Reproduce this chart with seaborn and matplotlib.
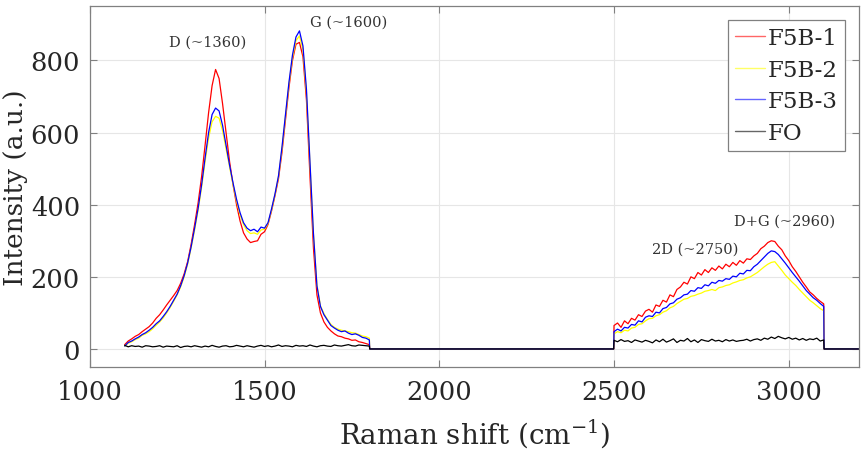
import matplotlib
matplotlib.use("Agg")
import matplotlib.pyplot as plt
import seaborn as sns
import pandas as pd
import numpy as np

# ---- data (step 10 cm^-1) ----
shift_low = list(range(1100, 1801, 10))     # 1100..1800
shift_high = list(range(2500, 3101, 10))    # 2500..3100
gap_shift = [1801, 2499]                    # baseline between the two windows
tail_shift = [3101, 3200]                   # baseline after the second window

f5b1_low = [12, 22, 28, 35, 40, 48, 55, 62, 72, 85,
            95, 108, 122, 135, 148, 162, 182, 208, 242, 290,
            345, 405, 478, 565, 655, 730, 775, 750, 680, 600,
            520, 455, 400, 355, 322, 305, 295, 298, 300, 318,
            325, 345, 382, 425, 472, 545, 635, 725, 800, 845,
            850, 810, 690, 480, 280, 150, 100, 75, 60, 50,
            42, 36, 34, 30, 28, 24, 25, 20, 18, 15,
            12]
f5b2_low = [8, 16, 20, 26, 30, 38, 42, 48, 56, 66,
            75, 86, 100, 115, 132, 150, 172, 200, 235, 280,
            330, 385, 448, 520, 585, 630, 645, 640, 605, 555,
            505, 455, 410, 372, 345, 328, 320, 322, 318, 330,
            332, 348, 385, 428, 478, 555, 645, 735, 808, 855,
            868, 830, 710, 515, 318, 178, 120, 98, 82, 68,
            60, 55, 52, 50, 48, 45, 44, 40, 36, 34,
            30]
f5b3_low = [8, 18, 22, 28, 33, 40, 45, 52, 60, 70,
            78, 90, 103, 118, 135, 152, 175, 203, 238, 283,
            335, 390, 455, 530, 600, 650, 668, 660, 620, 565,
            510, 460, 415, 378, 350, 335, 328, 332, 325, 338,
            335, 350, 388, 430, 480, 560, 650, 740, 815, 865,
            882, 840, 720, 520, 320, 175, 118, 95, 80, 65,
            58, 52, 48, 50, 44, 40, 42, 38, 32, 30,
            25]
fo_low = [10, 6, 9, 7, 8, 5, 9, 8, 6, 7,
          9, 5, 8, 7, 6, 9, 4, 7, 8, 6,
          9, 7, 5, 8, 6, 10, 7, 5, 8, 9,
          6, 7, 10, 8, 6, 9, 7, 5, 8, 10,
          7, 9, 6, 8, 11, 7, 9, 8, 6, 10,
          8, 9, 7, 11, 8, 6, 9, 10, 8, 7,
          11, 9, 8, 10, 12, 9, 8, 11, 10, 9,
          8]

f5b1_high = [65, 72, 60, 78, 70, 85, 80, 95, 90, 105,
             110, 102, 122, 118, 135, 130, 150, 145, 165, 172,
             185, 180, 200, 195, 212, 205, 220, 212, 225, 218,
             230, 222, 235, 228, 240, 232, 245, 238, 250, 248,
             258, 265, 278, 285, 295, 300, 298, 285, 275, 258,
             245, 228, 215, 200, 185, 172, 158, 150, 140, 132,
             125]
f5b2_high = [42, 48, 45, 52, 50, 58, 60, 68, 70, 78,
             84, 85, 92, 95, 102, 106, 114, 118, 126, 132,
             138, 140, 146, 148, 152, 155, 160, 162, 165, 162,
             170, 172, 176, 178, 183, 186, 190, 192, 197, 200,
             206, 212, 220, 228, 235, 240, 242, 230, 218, 205,
             195, 185, 176, 165, 155, 145, 135, 128, 120, 112,
             106]
f5b3_high = [48, 55, 50, 60, 58, 68, 66, 78, 75, 88,
             92, 90, 102, 100, 112, 115, 125, 128, 138, 142,
             150, 152, 162, 160, 170, 168, 178, 175, 185, 182,
             190, 188, 195, 193, 202, 200, 210, 208, 218, 217,
             228, 235, 245, 255, 265, 272, 270, 262, 250, 238,
             225, 212, 200, 188, 175, 162, 152, 142, 135, 126,
             118]
fo_high = [24, 20, 26, 21, 23, 18, 25, 22, 19, 24,
           21, 17, 25, 20, 27, 19, 23, 28, 18, 24,
           22, 29, 20, 25, 18, 26, 23, 21, 27, 22,
           24, 20, 26, 22, 25, 21, 23, 24, 27, 22,
           26, 28, 24, 30, 27, 33, 29, 35, 31, 28,
           32, 27, 30, 25, 29, 24, 28, 26, 30, 22,
           25]

samples = ["F5B-1", "F5B-2", "F5B-3", "FO"]
colors = ["#ff0000", "#ffff00", "#0000ff", "#000000"]
low = [f5b1_low, f5b2_low, f5b3_low, fo_low]
high = [f5b1_high, f5b2_high, f5b3_high, fo_high]

peak_labels = ["D (~1360)", "G (~1600)", "2D (~2750)", "D+G (~2960)"]
peak_x = [1336, 1742, 2733, 2987]
peak_y = [851, 908, 277, 356]

# long table for seaborn
rows = []
for name, lo, hi in zip(samples, low, high):
    xs = shift_low + gap_shift + shift_high + tail_shift
    ys = lo + [0, 0] + hi + [0, 0]
    rows.append(pd.DataFrame({"shift": xs, "intensity": ys, "sample": name}))
df = pd.concat(rows, ignore_index=True)

sns.set_style("ticks")
plt.rcParams["font.family"] = ["DejaVu Serif"]
plt.rcParams["mathtext.fontset"] = "dejavuserif"

text_c = "#262626"
fig, ax = plt.subplots(figsize=(8.63, 4.60), dpi=100)
fig.subplots_adjust(left=0.104, right=0.995, top=0.984, bottom=0.20)

sns.lineplot(data=df, x="shift", y="intensity", hue="sample",
             palette=dict(zip(samples, colors)), hue_order=samples,
             estimator=None, sort=False, linewidth=0.9, ax=ax)

for lab, px, py in zip(peak_labels, peak_x, peak_y):
    ax.text(px, py, lab, ha="center", va="center", fontsize=10.5, color="#333333")

ax.set_xlim(1000, 3200)
ax.set_ylim(-50, 950)
ax.set_xticks([1000, 1500, 2000, 2500, 3000])
ax.set_yticks([0, 200, 400, 600, 800])
ax.grid(True, color="#e6e6e6", linewidth=0.8)
ax.set_axisbelow(True)
for sp in ax.spines.values():
    sp.set_visible(True)
    sp.set_color("#808080")
    sp.set_linewidth(0.9)
ax.tick_params(direction="in", top=True, right=True, length=5, width=0.8,
               color="#808080", labelsize=18.5, labelcolor=text_c)
ax.tick_params(axis="x", pad=9)
ax.tick_params(axis="y", pad=7)

ax.set_xlabel("Raman shift (cm$^{\\mathregular{-1}}$)", fontsize=20, color=text_c, labelpad=8)
ax.set_ylabel("Intensity (a.u.)", fontsize=19, color=text_c, labelpad=2)

leg = ax.legend(loc="upper right", fontsize=16.5, frameon=True, fancybox=False,
                edgecolor="#808080", framealpha=1, borderaxespad=0.6,
                handlelength=1.3, handletextpad=0.15, labelspacing=0.42,
                borderpad=0.3)
leg.get_frame().set_linewidth(0.9)
for h in leg.get_lines():
    h.set_linewidth(1.0)
    h.set_alpha(0.6)

fig.savefig("out.png", dpi=100)
